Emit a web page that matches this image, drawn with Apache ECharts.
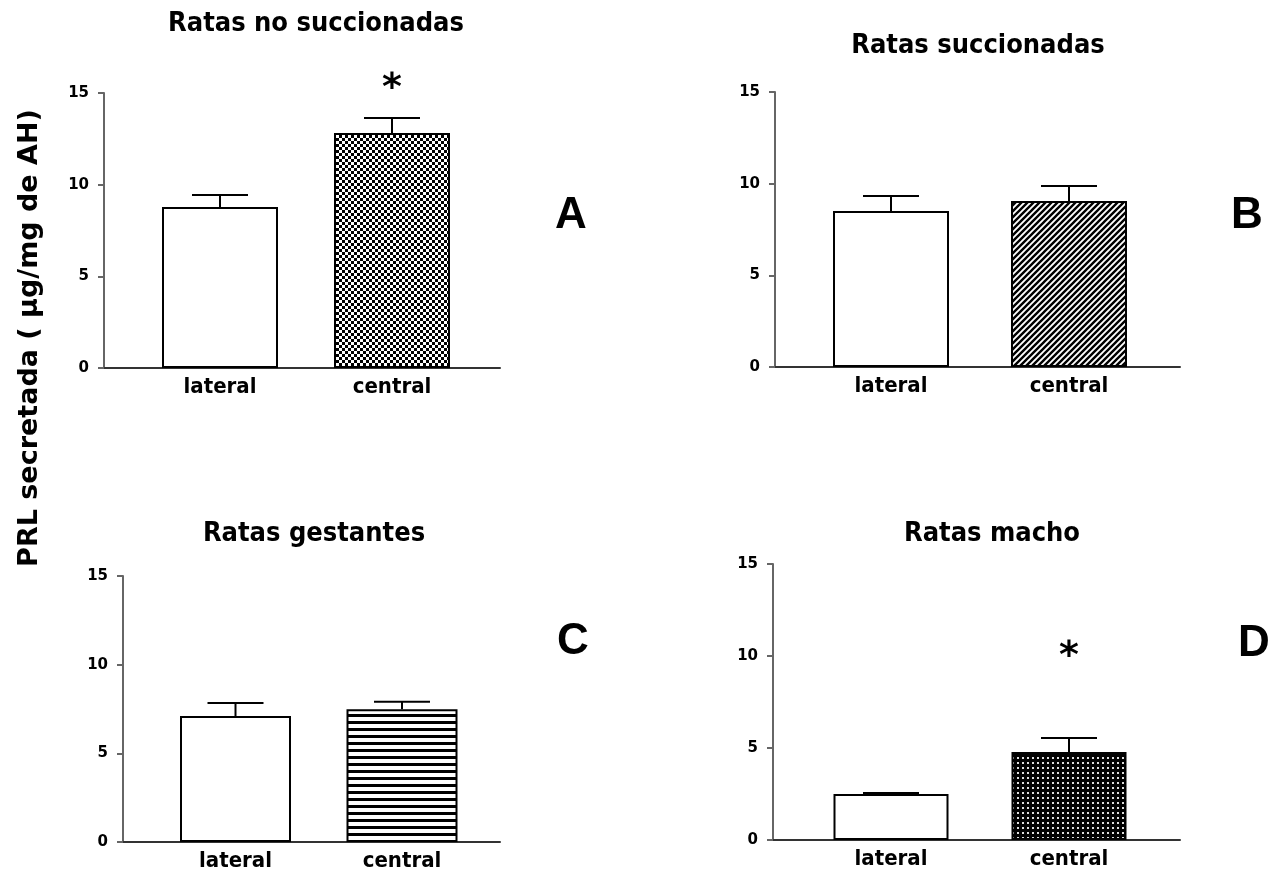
<!DOCTYPE html>
<html>
<head>
<meta charset="utf-8">
<script src="https://cdn.jsdelivr.net/npm/echarts@6/dist/echarts.min.js"></script>
<style>
  html, body { margin: 0; padding: 0; background: #fff; }
  #chart { width: 1278px; height: 878px; }
</style>
</head>
<body>
<div id="chart"></div>
<script>
// datos (PRL secretada, ug/mg de AH)
const categories = ['lateral', 'central'];
const yTicks = [0, 5, 10, 15];

const meanA = [8.78, 12.82];
const semA = [0.66, 0.82];
const meanB = [8.51, 9.05];
const semB = [0.82, 0.82];
const meanC = [7.1, 7.48];
const semC = [0.74, 0.43];
const meanD = [2.5, 4.78];
const semD = [0.05, 0.76];

// asteriscos: [categoria, altura]
const starA = [[1, 15.2]];
const starD = [[1, 9.95]];

// rellenos de la barra "central"
function makePattern(kind) {
  const c = document.createElement('canvas');
  const g = c.getContext('2d');
  if (kind === 'check') {
    c.width = c.height = 6;
    g.fillStyle = '#fff'; g.fillRect(0, 0, 6, 6);
    g.fillStyle = '#000'; g.fillRect(0, 0, 3, 3); g.fillRect(3, 3, 3, 3);
  } else if (kind === 'diag') {
    c.width = c.height = 6;
    g.fillStyle = '#fff'; g.fillRect(0, 0, 6, 6);
    g.strokeStyle = '#000'; g.lineWidth = 2.4;
    g.beginPath();
    g.moveTo(-1, 7); g.lineTo(7, -1);
    g.moveTo(-4, 4); g.lineTo(4, -4);
    g.moveTo(2, 10); g.lineTo(10, 2);
    g.stroke();
  } else if (kind === 'hline') {
    c.width = 4; c.height = 7;
    g.fillStyle = '#fff'; g.fillRect(0, 0, 4, 7);
    g.fillStyle = '#000'; g.fillRect(0, 0, 4, 3);
  } else if (kind === 'dots') {
    c.width = c.height = 5;
    g.fillStyle = '#000'; g.fillRect(0, 0, 5, 5);
    g.fillStyle = '#ddd'; g.fillRect(2, 2, 2, 2);
  }
  return { image: c, repeat: 'repeat' };
}

const panels = [
  { title: 'Ratas no succionadas', mean: meanA, sem: semA, stars: starA, fill: 'check',
    left: 104, right: 500, top: 93, bottom: 368, c0: 220, c1: 392, barW: 116,
    titleX: 311, titleY: 5, letter: 'A', lx: 571, ly: 216 },
  { title: 'Ratas succionadas', mean: meanB, sem: semB, stars: [], fill: 'diag',
    left: 775, right: 1180, top: 92, bottom: 367, c0: 891, c1: 1069, barW: 116,
    titleX: 973, titleY: 27, letter: 'B', lx: 1247, ly: 216 },
  { title: 'Ratas gestantes', mean: meanC, sem: semC, stars: [], fill: 'hline',
    left: 123, right: 500, top: 576, bottom: 842, c0: 235.5, c1: 402, barW: 111,
    titleX: 309, titleY: 515, letter: 'C', lx: 573, ly: 642 },
  { title: 'Ratas macho', mean: meanD, sem: semD, stars: starD, fill: 'dots',
    left: 773, right: 1180, top: 564, bottom: 840, c0: 891, c1: 1069, barW: 115,
    titleX: 987, titleY: 515, letter: 'D', lx: 1254, ly: 644 }
];

const boldFont = 'DejaVu Sans Condensed';

const option = {
  backgroundColor: '#fff',
  animation: false,
  title: panels.map(p => ({
    text: p.title,
    left: p.titleX,
    top: p.titleY,
    textAlign: 'center',
    textStyle: { fontFamily: boldFont, fontWeight: 'bold', fontSize: 27, color: '#000' }
  })),
  grid: panels.map(p => ({
    left: p.left, top: p.top, width: p.right - p.left, height: p.bottom - p.top
  })),
  xAxis: panels.map((p, i) => {
    const s = p.c1 - p.c0;
    return {
      type: 'value', gridIndex: i,
      min: (p.left - p.c0) / s, max: (p.right - p.c0) / s,
      axisLabel: { show: false }, axisTick: { show: false }, splitLine: { show: false },
      axisLine: { show: true, onZero: false, lineStyle: { color: '#333', width: 2 } }
    };
  }),
  yAxis: panels.map((p, i) => ({
    type: 'value', gridIndex: i,
    min: yTicks[0], max: yTicks[yTicks.length - 1], interval: yTicks[1] - yTicks[0],
    splitLine: { show: false },
    axisLine: { show: true, onZero: false, lineStyle: { color: '#666', width: 2 } },
    axisTick: { show: true, length: 6, lineStyle: { color: '#666', width: 2 } },
    axisLabel: { fontFamily: 'DejaVu Sans', fontWeight: 'bold', fontSize: 15, color: '#000', margin: 15 }
  })),
  series: []
};

panels.forEach((p, i) => {
  const pat = makePattern(p.fill);
  option.series.push({
    type: 'bar', xAxisIndex: i, yAxisIndex: i, barWidth: p.barW,
    data: p.mean.map((v, k) => ({
      value: [k, v],
      itemStyle: { color: k === 0 ? '#fff' : pat }
    })),
    itemStyle: { borderColor: '#000', borderWidth: 2 },
    label: {
      show: true, position: 'bottom', distance: 8,
      formatter: d => categories[d.value[0]],
      fontFamily: boldFont, fontWeight: 'bold', fontSize: 22, color: '#000'
    },
    silent: true
  });
  // barras de error (solo hacia arriba)
  option.series.push({
    type: 'custom', xAxisIndex: i, yAxisIndex: i, clip: false, z: 5, silent: true,
    data: p.mean.map((v, k) => [k, v, p.sem[k]]),
    renderItem: (params, api) => {
      const x = api.value(0), m = api.value(1), s = api.value(2);
      const b = api.coord([x, m]);
      const t = api.coord([x, m + s]);
      const hw = 28;
      return {
        type: 'group',
        children: [
          { type: 'line', shape: { x1: b[0], y1: b[1], x2: t[0], y2: t[1] }, style: { stroke: '#000', lineWidth: 2 } },
          { type: 'line', shape: { x1: t[0] - hw, y1: t[1], x2: t[0] + hw, y2: t[1] }, style: { stroke: '#000', lineWidth: 2 } }
        ]
      };
    }
  });
  if (p.stars.length) {
    option.series.push({
      type: 'custom', xAxisIndex: i, yAxisIndex: i, clip: false, silent: true,
      data: p.stars,
      renderItem: (params, api) => {
        const pt = api.coord([api.value(0), api.value(1)]);
        return {
          type: 'text', x: pt[0], y: pt[1],
          style: { text: '*', fontFamily: 'DejaVu Sans', fontWeight: 'bold', fontSize: 38,
                   align: 'center', verticalAlign: 'middle', fill: '#000' }
        };
      }
    });
  }
});

option.graphic = panels.map(p => ({
  type: 'text', x: p.lx, y: p.ly,
  style: { text: p.letter, font: 'bold 44px "Liberation Sans"', align: 'center', verticalAlign: 'middle', fill: '#000' }
})).concat([{
  type: 'text', x: 30, y: 338, rotation: Math.PI / 2,
  style: { text: 'PRL secretada ( \u03bcg/mg de AH)', font: 'bold 27px "DejaVu Sans"',
           align: 'center', verticalAlign: 'middle', fill: '#000' }
}]);

const chart = echarts.init(document.getElementById('chart'));
chart.setOption(option);
</script>
</body>
</html>
